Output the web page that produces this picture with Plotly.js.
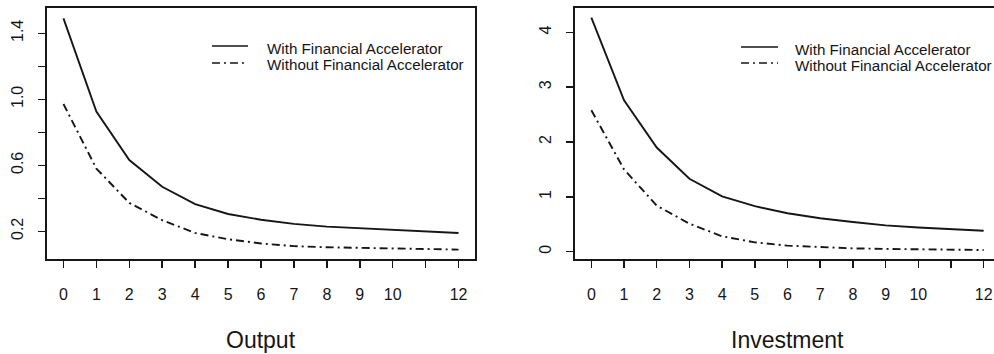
<!DOCTYPE html>
<html>
<head>
<meta charset="utf-8">
<script src="https://cdn.plot.ly/plotly-3.0.1.min.js"></script>
<style>
html, body { margin: 0; padding: 0; background: #fff; overflow: hidden; width: 994px; height: 354px; }
#chart { width: 1010px; height: 354px; }
</style>
</head>
<body>
<div id="chart"></div>
<script>
// ---- data ----
const periods = [0, 1, 2, 3, 4, 5, 6, 7, 8, 9, 10, 11, 12];
const xTickLabels = ['0', '1', '2', '3', '4', '5', '6', '7', '8', '9', '10', '', '12'];

const outputWith    = [1.49, 0.925, 0.632, 0.47, 0.365, 0.305, 0.27, 0.245, 0.228, 0.218, 0.207, 0.198, 0.19];
const outputWithout = [0.971, 0.58, 0.372, 0.267, 0.19, 0.152, 0.126, 0.11, 0.103, 0.099, 0.095, 0.092, 0.089];

const investWith    = [4.27, 2.76, 1.9, 1.33, 1.01, 0.83, 0.70, 0.61, 0.54, 0.48, 0.44, 0.41, 0.38];
const investWithout = [2.58, 1.5, 0.84, 0.51, 0.28, 0.17, 0.11, 0.08, 0.06, 0.05, 0.04, 0.035, 0.03];

const outputYTicks = [0.2, 0.4, 0.6, 0.8, 1.0, 1.2, 1.4];
const outputYLabels = ['0.2', '', '0.6', '', '1.0', '', '1.4'];
const investYTicks = [0, 1, 2, 3, 4];
const investYLabels = ['0', '1', '2', '3', '4'];

const seriesNames = ['With Financial Accelerator', 'Without Financial Accelerator'];
const panelTitles = ['Output', 'Investment'];

// ---- styling ----
const INK = '#161616';
const FONT = 'Liberation Sans, Arial, Helvetica, sans-serif';
const DASHDOT = '8px,4px,2px,4px';
const W = 1010, H = 354;
const plotTop = 8, plotBottom = 259;
const plotH = plotBottom - plotTop;
const px = v => v / W;                        // pixel x -> paper
const py = v => (plotBottom - v) / plotH;     // pixel y -> paper

function trace(y, xa, ya, dash, name) {
  return {
    x: periods, y: y, xaxis: xa, yaxis: ya, name: name,
    type: 'scatter', mode: 'lines', showlegend: false,
    line: { color: INK, width: 1.9, dash: dash }
  };
}

const data = [
  trace(outputWith, 'x', 'y', 'solid', seriesNames[0]),
  trace(outputWithout, 'x', 'y', DASHDOT, seriesNames[1]),
  trace(investWith, 'x2', 'y2', 'solid', seriesNames[0]),
  trace(investWithout, 'x2', 'y2', DASHDOT, seriesNames[1])
];

function xAxis(domain, anchor) {
  return {
    domain: domain, anchor: anchor, range: [-0.5, 12.5],
    tickmode: 'array', tickvals: periods, ticktext: xTickLabels,
    ticks: 'outside', ticklen: 7, tickwidth: 1.5, tickcolor: INK,
    ticklabelstandoff: 13,
    showline: true, mirror: true, linecolor: INK, linewidth: 2,
    showgrid: false, zeroline: false,
    tickfont: { family: FONT, size: 16, color: INK }
  };
}
function yAxis(range, vals, labels, anchor) {
  return {
    domain: [0, 1], anchor: anchor, range: range,
    tickmode: 'array', tickvals: vals, ticktext: labels, tickangle: -90,
    ticks: 'outside', ticklen: 7, tickwidth: 1.5, tickcolor: INK,
    ticklabelstandoff: 9,
    showline: true, mirror: true, linecolor: INK, linewidth: 2,
    showgrid: false, zeroline: false,
    tickfont: { family: FONT, size: 16, color: INK }
  };
}

const legendRows = [
  { panel: 0, x0: 212, x1: 248, ys: [46, 63], tx: 265, ty: [48.5, 64.5] },
  { panel: 1, x0: 741, x1: 778, ys: [47, 63], tx: 793, ty: [50, 65.5] }
];

const shapes = [];
const annotations = [];
legendRows.forEach(r => {
  [0, 1].forEach(i => {
    shapes.push({
      type: 'line', xref: 'paper', yref: 'paper',
      x0: px(r.x0), x1: px(r.x1), y0: py(r.ys[i]), y1: py(r.ys[i]),
      line: { color: INK, width: 1.6, dash: i === 0 ? 'solid' : DASHDOT }
    });
    annotations.push({
      text: seriesNames[i], xref: 'paper', yref: 'paper',
      x: px(r.tx), y: py(r.ty[i]), xanchor: 'left', yanchor: 'middle',
      showarrow: false, font: { family: FONT, size: 15.2, color: INK }
    });
  });
});
annotations.push({
  text: panelTitles[0], xref: 'x domain', yref: 'paper', x: 0.5, y: py(340),
  xanchor: 'center', yanchor: 'middle', showarrow: false,
  font: { family: FONT, size: 23, color: INK }
});
annotations.push({
  text: panelTitles[1], xref: 'x2 domain', yref: 'paper', x: 0.5, y: py(340),
  xanchor: 'center', yanchor: 'middle', showarrow: false,
  font: { family: FONT, size: 23, color: INK }
});

const layout = {
  width: W, height: H,
  margin: { l: 0, r: 0, t: plotTop, b: H - plotBottom },
  paper_bgcolor: '#ffffff', plot_bgcolor: '#ffffff',
  showlegend: false,
  xaxis: xAxis([px(47), px(475)], 'y'),
  yaxis: yAxis([0.032, 1.553], outputYTicks, outputYLabels, 'x'),
  xaxis2: xAxis([px(575), px(1000)], 'y2'),
  yaxis2: yAxis([-0.134, 4.445], investYTicks, investYLabels, 'x2'),
  shapes: shapes,
  annotations: annotations
};

Plotly.newPlot('chart', data, layout, { displayModeBar: false, staticPlot: true });
</script>
</body>
</html>
